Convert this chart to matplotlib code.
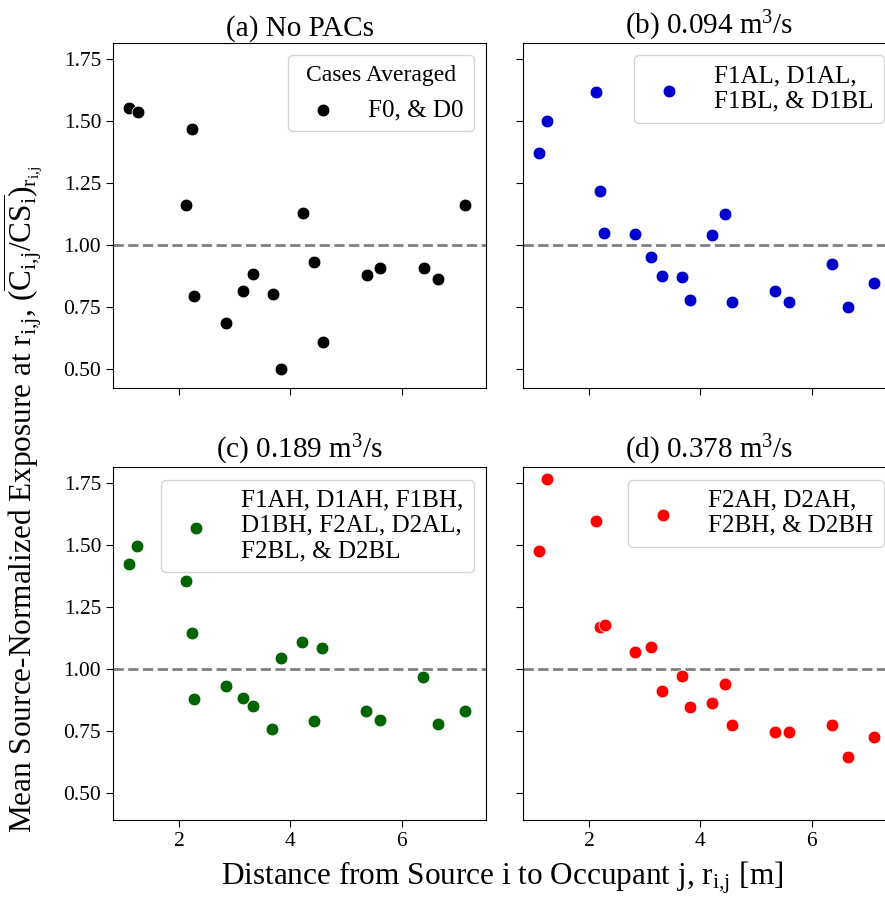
import matplotlib
matplotlib.use("Agg")
import matplotlib.pyplot as plt

plt.rcParams["font.family"] = ["Liberation Serif", "DejaVu Serif"]
plt.rcParams["mathtext.fontset"] = "custom"
plt.rcParams["mathtext.rm"] = "Liberation Serif"
plt.rcParams["mathtext.it"] = "Liberation Serif:italic"
plt.rcParams["mathtext.bf"] = "Liberation Serif:bold"

# (a) no PACs
dist_a = [1.10, 1.26, 2.23, 2.12, 2.27, 2.85, 3.14, 3.33, 3.68, 3.84, 4.22, 4.43, 4.58, 5.38, 5.62, 6.40, 6.65, 7.14]
exp_a = [1.552, 1.536, 1.470, 1.163, 0.793, 0.684, 0.814, 0.884, 0.804, 0.500, 1.129, 0.933, 0.609, 0.879, 0.906, 0.906, 0.863, 1.163]

# (b) 0.094 m3/s
dist_b = [1.10, 1.25, 2.12, 2.20, 2.27, 2.83, 3.12, 3.31, 3.67, 3.82, 4.21, 4.44, 4.57, 5.35, 5.60, 6.37, 6.66, 7.12]
exp_b = [1.370, 1.500, 1.618, 1.216, 1.048, 1.044, 0.950, 0.874, 0.870, 0.777, 1.039, 1.125, 0.771, 0.816, 0.771, 0.923, 0.750, 0.847]

# (c) 0.189 m3/s
dist_c = [1.10, 1.25, 2.12, 2.23, 2.26, 2.85, 3.14, 3.33, 3.67, 3.84, 4.21, 4.42, 4.57, 5.37, 5.61, 6.39, 6.65, 7.14]
exp_c = [1.422, 1.497, 1.356, 1.145, 0.879, 0.933, 0.884, 0.851, 0.759, 1.047, 1.108, 0.792, 1.085, 0.831, 0.797, 0.970, 0.781, 0.832]

# (d) 0.378 m3/s
dist_d = [1.25, 1.10, 2.12, 2.19, 2.28, 2.83, 3.12, 3.31, 3.67, 3.82, 4.21, 4.44, 4.57, 5.35, 5.60, 6.37, 6.66, 7.12]
exp_d = [1.766, 1.478, 1.598, 1.168, 1.179, 1.070, 1.091, 0.912, 0.971, 0.846, 0.863, 0.939, 0.775, 0.748, 0.748, 0.775, 0.646, 0.726]

titles = ["(a) No PACs", "(b) 0.094 m$^3$/s", "(c) 0.189 m$^3$/s", "(d) 0.378 m$^3$/s"]
labels = ["F0, & D0",
          "F1AL, D1AL,\nF1BL, & D1BL",
          "F1AH, D1AH, F1BH,\nD1BH, F2AL, D2AL,\nF2BL, & D2BL",
          "F2AH, D2AH,\nF2BH, & D2BH"]
colors = ["black", "mediumblue", "darkgreen", "red"]
dists = [dist_a, dist_b, dist_c, dist_d]
exps = [exp_a, exp_b, exp_c, exp_d]

W, H = 885, 900
fig = plt.figure(figsize=(W / 100, H / 100), dpi=100)

# axes boxes in pixels: left, top, width, height
boxes = [(113, 43, 373, 345), (523, 43, 373, 345),
         (113, 467, 373, 353), (523, 467, 373, 353)]
ylims = [(0.423, 1.815), (0.423, 1.815), (0.392, 1.815), (0.392, 1.815)]

for i in range(4):
    l, t, w, h = boxes[i]
    ax = fig.add_axes([l / W, 1 - (t + h) / H, w / W, h / H])
    ax.scatter(dists[i], exps[i], s=85, color=colors[i], edgecolor="white",
               linewidth=0.6, label=labels[i], zorder=3)
    ax.axhline(1.0, color="gray", linestyle="--", linewidth=2, zorder=2)
    ax.set_xlim(0.81, 7.52)
    ax.set_ylim(*ylims[i])
    ax.set_xticks([2, 4, 6])
    ax.set_yticks([0.5, 0.75, 1.0, 1.25, 1.5, 1.75])
    ax.tick_params(labelsize=15.5, length=5)
    ax.set_title(titles[i], fontsize=21, pad=5)
    if i % 2 == 1:
        ax.set_yticklabels([])
    else:
        ax.set_yticklabels(["0.50", "0.75", "1.00", "1.25", "1.50", "1.75"])
    if i < 2:
        ax.set_xticklabels([])
    if i == 0:
        ax.legend(loc="upper right", title="Cases Averaged", fontsize=18, title_fontsize=17)
    else:
        ax.legend(loc="upper right", fontsize=18)

fig.text(0.026, 0.445,
         r"Mean Source-Normalized Exposure at r$_{\mathrm{i{,}j}}$, "
         r"$(\overline{\mathrm{C}_{\mathrm{i{,}j}}/\mathrm{CS}_{\mathrm{i}}})_{\mathrm{r}_{\mathrm{i{,}j}}}$",
         rotation=90, ha="center", va="center", fontsize=22.5)
fig.text(0.567, 0.025, r"Distance from Source i to Occupant j, r$_{\mathrm{i{,}j}}$ [m]",
         ha="center", va="center", fontsize=22.5)

fig.savefig("out.png", dpi=100)
